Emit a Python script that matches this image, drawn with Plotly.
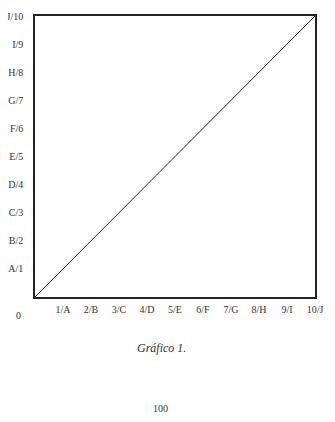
import plotly.graph_objects as go

x_values = [0, 10]
y_values = [0, 10]
tick_vals = [1, 2, 3, 4, 5, 6, 7, 8, 9, 10]
x_tick_labels = ["1/A", "2/B", "3/C", "4/D", "5/E", "6/F", "7/G", "8/H", "9/I", "10/J"]
y_tick_labels = ["A/1", "B/2", "C/3", "D/4", "E/5", "F/6", "G/7", "H/8", "I/9", "J/10"]
origin_label = "0"
caption = "Gráfico 1."
page_number = "100"

FONT = "Liberation Serif, DejaVu Serif, serif"

fig = go.Figure()
fig.add_trace(go.Scatter(x=x_values, y=y_values, mode="lines",
                         line=dict(color="#222", width=1), hoverinfo="skip",
                         showlegend=False))

OFF = 8  # page body margin
W, H = 335 - OFF, 422 - OFF
box_l, box_r, box_t, box_b = 35, 315, 16, 297  # in screenshot pixels
L = box_l - OFF
T = box_t - OFF
R = W - (box_r - OFF)
B = H - (box_b - OFF)
plot_w = box_r - box_l

fig.update_layout(
    template="none",
    width=W, height=H,
    margin=dict(l=L, r=R, t=T, b=B, pad=0),
    paper_bgcolor="white", plot_bgcolor="white",
    font=dict(family=FONT, size=10, color="#333"),
    xaxis=dict(range=[0, 10], tickvals=tick_vals, ticktext=x_tick_labels,
               showgrid=False, zeroline=False, showline=True, mirror=True,
               linecolor="#222", linewidth=1.5, ticks="", ticklabelstandoff=2,
               automargin=False,
               tickfont=dict(family=FONT, size=10, color="#333")),
    yaxis=dict(range=[0, 10], tickvals=tick_vals, ticktext=y_tick_labels,
               showgrid=False, zeroline=False, showline=True, mirror=True,
               linecolor="#222", linewidth=1.5, ticks="", ticklabelstandoff=8,
               automargin=False,
               tickfont=dict(family=FONT, size=10, color="#333")),
    annotations=[
        dict(text=origin_label, xref="paper", yref="paper",
             x=(18 - box_l) / plot_w, y=0, yshift=-(315 - box_b), showarrow=False,
             xanchor="center", yanchor="middle",
             font=dict(family=FONT, size=10, color="#333")),
        dict(text="<i>" + caption + "</i>", xref="paper", yref="paper",
             x=(161 - box_l) / plot_w, y=0, yshift=-(348 - box_b), showarrow=False,
             xanchor="center", yanchor="middle",
             font=dict(family=FONT, size=12, color="#333")),
        dict(text=page_number, xref="paper", yref="paper",
             x=(160 - box_l) / plot_w, y=0, yshift=-(408 - box_b), showarrow=False,
             xanchor="center", yanchor="middle",
             font=dict(family=FONT, size=10, color="#333")),
    ],
)

fig.write_html("out.html")
